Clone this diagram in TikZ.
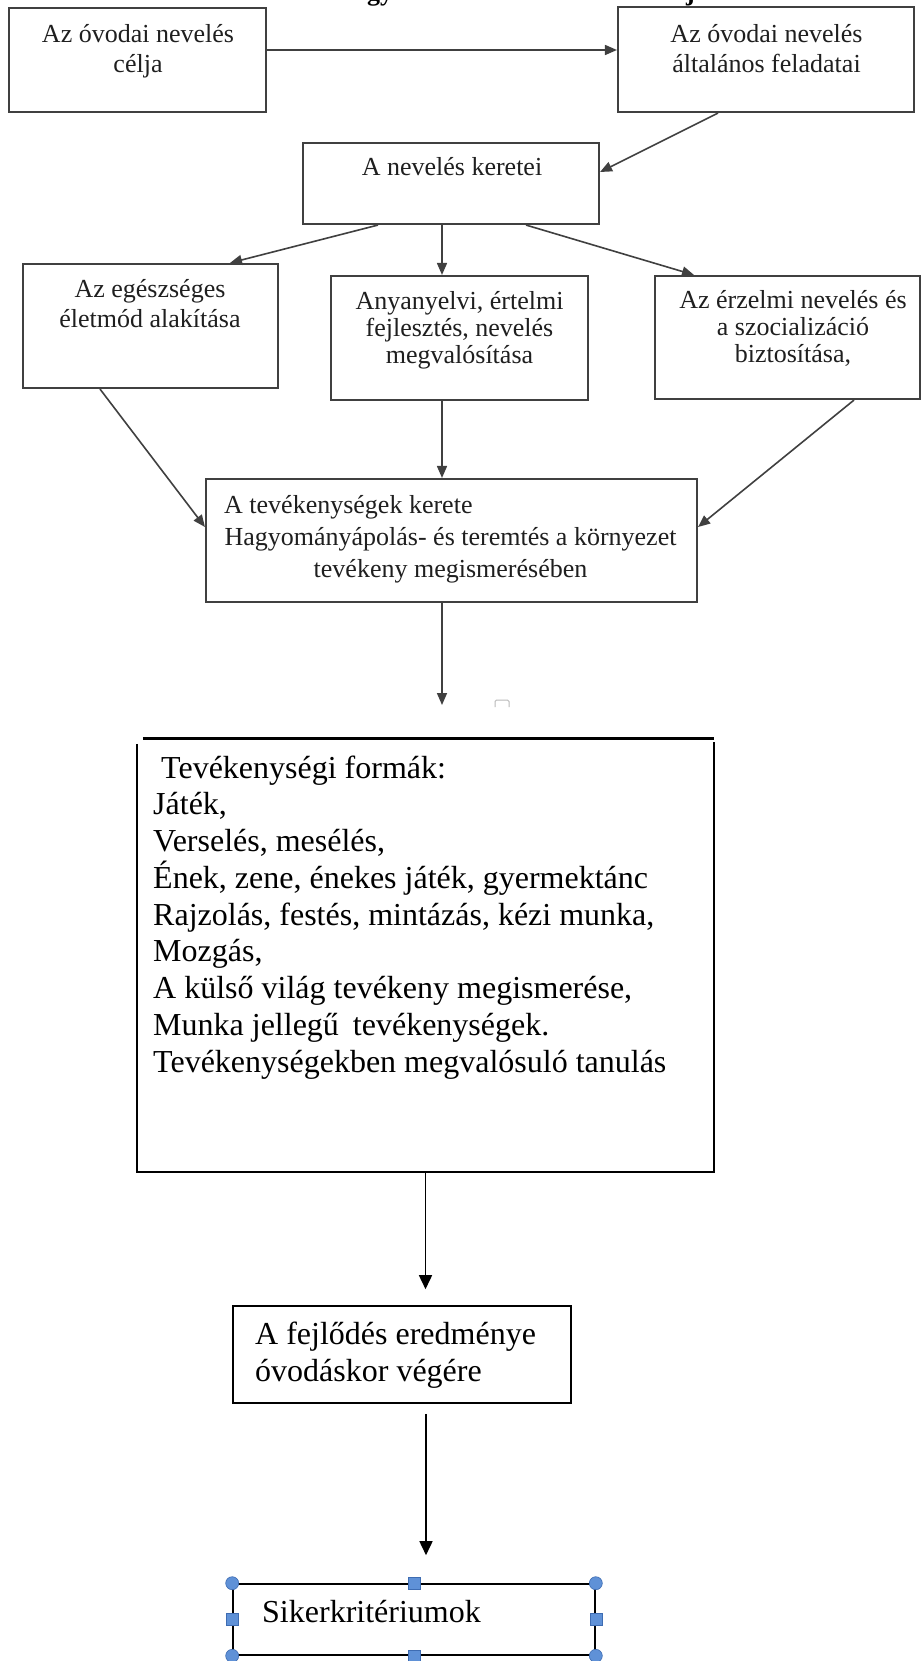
\documentclass[tikz,border=0pt]{standalone}
\usepackage{fontspec}
\setmainfont{Liberation Serif}
\usetikzlibrary{arrows.meta}
\newcommand\myhU{\rule{0pt}{22pt}}
\newcommand\myhL{\rule{0pt}{27pt}}
\definecolor{upline}{gray}{0.25}
\definecolor{uptext}{gray}{0.12}
\definecolor{hfill}{RGB}{95,145,215}
\definecolor{hdraw}{RGB}{62,108,178}
\tikzset{
  ubox/.style={draw=upline, line width=2.1pt, rectangle, inner sep=0pt},
  utext/.style={text=uptext, font=\fontsize{26}{30}\selectfont, align=center, inner sep=0pt},
  umid/.style={text=uptext, font=\fontsize{26}{27}\selectfont, align=center, inner sep=0pt},
  uarrow/.style={draw=upline, line width=1.6pt, -{Triangle[length=12pt,width=10pt]}},
  lbox/.style={draw=black, line width=1.6pt, rectangle, inner sep=0pt},
  ltext/.style={text=black, font=\fontsize{32}{36.75}\selectfont, inner sep=0pt},
  larrow/.style={draw=black, line width=1.6pt, -{Triangle[length=14pt,width=13pt]}},
  hcirc/.style={circle, fill=hfill, draw=hdraw, line width=0.6pt, minimum size=13pt, inner sep=0pt},
  hsq/.style={rectangle, fill=hfill, draw=hdraw, line width=0.6pt, minimum size=12pt, inner sep=0pt},
  titlef/.style={font=\fontsize{26}{30}\selectfont\bfseries, inner sep=0pt}
}
\begin{document}
\begin{tikzpicture}[x=1pt,y=-1pt]
\fill[white] (0,0) rectangle (922,1661);
\useasboundingbox (0,0) rectangle (922,1661);

% cut-off title
\node[titlef, anchor=base west] (tg) at (367,0.5) {gy};
\node[titlef, anchor=base west] (tj) at (686,0.5) {j};

% top row
\node[ubox, minimum width=257pt, minimum height=104pt] (celja) at (137.5,60) {};
\node[utext, anchor=north] (celjaT) at (138,20) {\myhU Az óvodai nevelés\\célja};
\node[ubox, minimum width=296pt, minimum height=105pt] (feladat) at (766,59.5) {};
\node[utext, anchor=north] (feladatT) at (766.5,20) {\myhU Az óvodai nevelés\\általános feladatai};
\node[ubox, minimum width=296pt, minimum height=81pt] (keret) at (451,183.5) {};
\node[utext, anchor=north] (keretT) at (452,153) {\myhU A nevelés keretei};

% middle row
\node[ubox, minimum width=255pt, minimum height=124pt] (egesz) at (150.5,326) {};
\node[utext, anchor=north] (egeszT) at (150,275) {\myhU Az egészséges\\életmód alakítása};
\node[ubox, minimum width=257pt, minimum height=124pt] (anya) at (459.5,338) {};
\node[umid, anchor=north] (anyaT) at (459.5,287) {\myhU Anyanyelvi, értelmi\\fejlesztés, nevelés\\megvalósítása};
\node[ubox, minimum width=265pt, minimum height=123pt] (erz) at (787.5,337.5) {};
\node[umid, anchor=north] (erzT) at (793,286) {\myhU Az érzelmi nevelés és\\a szocializáció\\biztosítása,};

% activities frame
\node[ubox, minimum width=491pt, minimum height=123pt] (tev) at (451.5,540.5) {};
\node[utext, anchor=base west] (tevA) at (224,513) {A tevékenységek kerete};
\node[utext, anchor=north, font=\fontsize{26}{32}\selectfont] (tevB) at (450.5,523) {\myhU Hagyományápolás- és teremtés a környezet\\tevékeny megismerésében};

% upper connectors
\draw[uarrow] ([yshift=10pt]celja.east) -- ([yshift=10pt]celja.east -| feladat.west);
\draw[uarrow] ([xshift=-48pt]feladat.south) -- ([yshift=11.5pt]keret.east);
\draw[uarrow] ([xshift=-73pt]keret.south) -- ([xshift=79.5pt]egesz.north);
\draw[uarrow] ([xshift=-9pt]keret.south) -- ([xshift=-9pt]keret.south |- anya.north);
\draw[uarrow] ([xshift=75pt]keret.south) -- ([xshift=-93.5pt]erz.north);
\draw[uarrow] ([xshift=-50.5pt]egesz.south) -- ([yshift=13.5pt]tev.west);
\draw[uarrow] ([xshift=-17.5pt]anya.south) -- ([xshift=-17.5pt]anya.south |- tev.north);
\draw[uarrow] ([xshift=66.5pt]erz.south) -- ([yshift=13.5pt]tev.east);
\coordinate (c1) at (442,705);
\draw[uarrow] ([xshift=-9.5pt]tev.south) -- (c1);

% small stray mark
\draw[gray!55, line width=1pt, rounded corners=1.5pt] (495,707) -- (495,700) -- (509,700) -- (509,707);

% activity forms box
\node[minimum width=577pt, minimum height=433pt, inner sep=0pt] (forma) at (425.5,955.5) {};
\draw[line width=2.8pt] ([xshift=6pt]forma.north west) -- (forma.north east);
\draw[line width=1.7pt] ([yshift=-5pt]forma.north west) -- (forma.south west) -- (forma.south east) -- ([yshift=-3pt]forma.north east);
\node[ltext, anchor=north west, align=left] (formaT) at (153,751) {\myhL\hspace{8pt}Tevékenységi formák:\\Játék,\\Verselés, mesélés,\\Ének, zene, énekes játék, gyermektánc\\Rajzolás, festés, mintázás, kézi munka,\\Mozgás,\\A külső világ tevékeny megismerése,\\Munka jellegű\hspace{6pt} tevékenységek.\\Tevékenységekben megvalósuló tanulás};

% result box
\node[lbox, minimum width=338pt, minimum height=97pt] (fejl) at (402,1354.5) {};
\node[ltext, anchor=north west, align=left, font=\fontsize{32}{37.5}\selectfont] (fejlT) at (255,1317) {\myhL A fejlődés eredménye\\óvodáskor végére};

% success criteria box
\node[lbox, minimum width=362pt, minimum height=71pt] (siker) at (414,1619.5) {};
\node[ltext, anchor=base west] (sikerT) at (262,1622.5) {Sikerkritériumok};
\node[hcirc] (h1) at (siker.north west) {};
\node[hcirc] (h2) at (siker.north east) {};
\node[hcirc] (h3) at (siker.south west) {};
\node[hcirc] (h4) at (siker.south east) {};
\node[hsq] (h5) at (siker.north) {};
\node[hsq] (h6) at (siker.south) {};
\node[hsq] (h7) at (siker.west) {};
\node[hsq] (h8) at (siker.east) {};

% lower connectors
\draw[larrow, shorten >=16pt] (forma.south) -- (forma.south |- fejl.north);
\draw[larrow, shorten <=10pt, shorten >=28pt] ([xshift=24pt]fejl.south) -- ([xshift=24pt]fejl.south |- siker.north);
\end{tikzpicture}
\end{document}
